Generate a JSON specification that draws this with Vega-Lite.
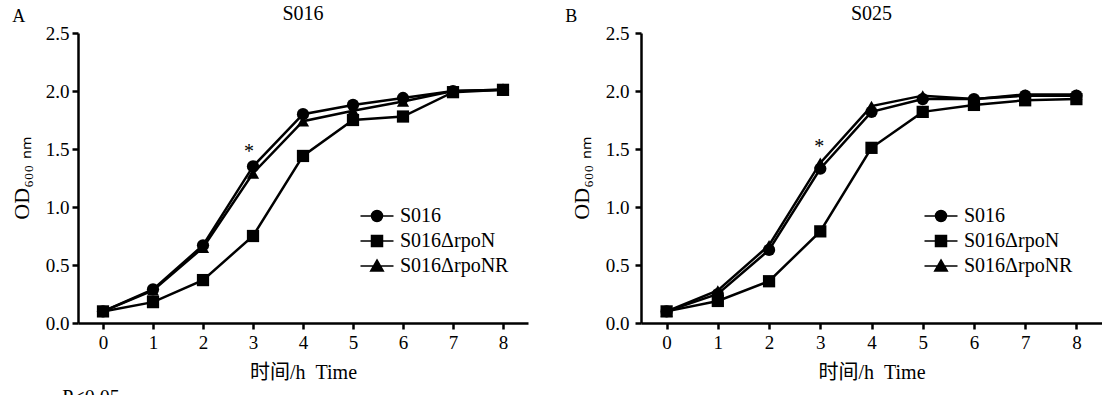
{
  "$schema": "https://vega.github.io/schema/vega-lite/v6.json",
  "background": "white",
  "padding": {"left": 10, "top": 4, "right": 0, "bottom": 0},
  "datasets": {
    "growth": [
      {"panel": "A", "strain": "S016", "time": 0, "od": 0.10},
      {"panel": "A", "strain": "S016", "time": 1, "od": 0.29},
      {"panel": "A", "strain": "S016", "time": 2, "od": 0.67},
      {"panel": "A", "strain": "S016", "time": 3, "od": 1.35},
      {"panel": "A", "strain": "S016", "time": 4, "od": 1.80},
      {"panel": "A", "strain": "S016", "time": 5, "od": 1.88},
      {"panel": "A", "strain": "S016", "time": 6, "od": 1.94},
      {"panel": "A", "strain": "S016", "time": 7, "od": 2.00},
      {"panel": "A", "strain": "S016", "time": 8, "od": 2.01},
      {"panel": "A", "strain": "S016ΔrpoN", "time": 0, "od": 0.10},
      {"panel": "A", "strain": "S016ΔrpoN", "time": 1, "od": 0.18},
      {"panel": "A", "strain": "S016ΔrpoN", "time": 2, "od": 0.37},
      {"panel": "A", "strain": "S016ΔrpoN", "time": 3, "od": 0.75},
      {"panel": "A", "strain": "S016ΔrpoN", "time": 4, "od": 1.44},
      {"panel": "A", "strain": "S016ΔrpoN", "time": 5, "od": 1.75},
      {"panel": "A", "strain": "S016ΔrpoN", "time": 6, "od": 1.78},
      {"panel": "A", "strain": "S016ΔrpoN", "time": 7, "od": 1.99},
      {"panel": "A", "strain": "S016ΔrpoN", "time": 8, "od": 2.01},
      {"panel": "A", "strain": "S016ΔrpoNR", "time": 0, "od": 0.10},
      {"panel": "A", "strain": "S016ΔrpoNR", "time": 1, "od": 0.28},
      {"panel": "A", "strain": "S016ΔrpoNR", "time": 2, "od": 0.65},
      {"panel": "A", "strain": "S016ΔrpoNR", "time": 3, "od": 1.29},
      {"panel": "A", "strain": "S016ΔrpoNR", "time": 4, "od": 1.74},
      {"panel": "A", "strain": "S016ΔrpoNR", "time": 5, "od": 1.83},
      {"panel": "A", "strain": "S016ΔrpoNR", "time": 6, "od": 1.91},
      {"panel": "A", "strain": "S016ΔrpoNR", "time": 7, "od": 2.00},
      {"panel": "A", "strain": "S016ΔrpoNR", "time": 8, "od": 2.01},
      {"panel": "B", "strain": "S016", "time": 0, "od": 0.10},
      {"panel": "B", "strain": "S016", "time": 1, "od": 0.25},
      {"panel": "B", "strain": "S016", "time": 2, "od": 0.63},
      {"panel": "B", "strain": "S016", "time": 3, "od": 1.33},
      {"panel": "B", "strain": "S016", "time": 4, "od": 1.82},
      {"panel": "B", "strain": "S016", "time": 5, "od": 1.93},
      {"panel": "B", "strain": "S016", "time": 6, "od": 1.93},
      {"panel": "B", "strain": "S016", "time": 7, "od": 1.96},
      {"panel": "B", "strain": "S016", "time": 8, "od": 1.96},
      {"panel": "B", "strain": "S016ΔrpoN", "time": 0, "od": 0.10},
      {"panel": "B", "strain": "S016ΔrpoN", "time": 1, "od": 0.19},
      {"panel": "B", "strain": "S016ΔrpoN", "time": 2, "od": 0.36},
      {"panel": "B", "strain": "S016ΔrpoN", "time": 3, "od": 0.79},
      {"panel": "B", "strain": "S016ΔrpoN", "time": 4, "od": 1.51},
      {"panel": "B", "strain": "S016ΔrpoN", "time": 5, "od": 1.82},
      {"panel": "B", "strain": "S016ΔrpoN", "time": 6, "od": 1.88},
      {"panel": "B", "strain": "S016ΔrpoN", "time": 7, "od": 1.92},
      {"panel": "B", "strain": "S016ΔrpoN", "time": 8, "od": 1.93},
      {"panel": "B", "strain": "S016ΔrpoNR", "time": 0, "od": 0.10},
      {"panel": "B", "strain": "S016ΔrpoNR", "time": 1, "od": 0.28},
      {"panel": "B", "strain": "S016ΔrpoNR", "time": 2, "od": 0.67},
      {"panel": "B", "strain": "S016ΔrpoNR", "time": 3, "od": 1.38},
      {"panel": "B", "strain": "S016ΔrpoNR", "time": 4, "od": 1.87},
      {"panel": "B", "strain": "S016ΔrpoNR", "time": 5, "od": 1.96},
      {"panel": "B", "strain": "S016ΔrpoNR", "time": 6, "od": 1.93},
      {"panel": "B", "strain": "S016ΔrpoNR", "time": 7, "od": 1.97},
      {"panel": "B", "strain": "S016ΔrpoNR", "time": 8, "od": 1.97}
    ],
    "marks": [
      {"panel": "A", "time": 2.92, "od": 1.47, "label": "*"},
      {"panel": "B", "time": 2.98, "od": 1.52, "label": "*"}
    ]
  },
  "config": {
    "font": "'Liberation Serif', 'Noto Sans CJK SC'",
    "view": {"stroke": null},
    "axis": {
      "grid": false,
      "domainColor": "black",
      "domainWidth": 2.5,
      "tickColor": "black",
      "tickWidth": 2.5,
      "tickSize": 6,
      "labelFont": "'Liberation Serif'",
      "labelFontSize": 19,
      "labelColor": "black",
      "titleFont": "'Liberation Serif', 'Noto Sans CJK SC'",
      "titleFontSize": 20,
      "titleFontWeight": "normal",
      "titleColor": "black"
    },
    "title": {"font": "'Liberation Serif'", "fontSize": 20, "fontWeight": "normal", "color": "black"},
    "legend": {"labelFont": "'Liberation Serif'", "labelFontSize": 20, "labelColor": "black"}
  },
  "title": {"text": "P<0.05", "orient": "bottom", "anchor": "start", "fontSize": 20, "dx": 52, "offset": 6},
  "spacing": 37,
  "hconcat": [
    {
      "title": {"text": "A", "anchor": "start", "frame": "bounds", "fontSize": 18, "dy": 26, "dx": 2},
      "vconcat": [
        {
          "width": 450,
          "height": 290,
          "title": {"text": "S016", "anchor": "middle", "offset": 0},
          "data": {"name": "growth"},
          "transform": [{"filter": "datum.panel === 'A'"}],
          "encoding": {
            "x": {"field": "time", "type": "quantitative", "scale": {"domain": [-0.5, 8.5], "nice": false, "zero": false},
                  "axis": {"values": [0, 1, 2, 3, 4, 5, 6, 7, 8], "title": "时间/h\u00a0\u00a0Time", "labelPadding": 4, "titlePadding": 10}},
            "y": {"field": "od", "type": "quantitative", "scale": {"domain": [0, 2.5], "nice": false},
                  "axis": {"values": [0, 0.5, 1, 1.5, 2, 2.5], "format": ".1f", "title": "OD₆₀₀ ₙₘ", "titleFontSize": 22, "labelPadding": 3, "titlePadding": 12}}
          },
          "layer": [
            {"mark": {"type": "line", "color": "black", "strokeWidth": 2.5}, "encoding": {"detail": {"field": "strain"}}},
            {"mark": {"type": "point", "filled": true, "color": "black", "size": 150, "opacity": 1},
             "encoding": {"shape": {"field": "strain", "type": "nominal", "scale": {"domain": ["S016", "S016ΔrpoN", "S016ΔrpoNR"], "range": ["circle", "square", "triangle-up"]}, "legend": null}}},
            {"mark": {"type": "point", "filled": true, "fill": "black", "stroke": "black", "strokeWidth": 2.5, "size": 121, "opacity": 0},
             "encoding": {"shape": {"field": "strain", "type": "nominal",
               "scale": {"domain": ["S016", "S016ΔrpoN", "S016ΔrpoNR"], "range": ["M-3,0H3M1,0A1,1,0,1,1,-1,0A1,1,0,1,1,1,0Z", "M-3,0H3M-1,-1H1V1H-1Z", "M-3,0H3M0,-1.1L1.15,0.9H-1.15Z"]},
               "legend": {"orient": "none", "legendX": 289, "legendY": 173, "title": null, "symbolOpacity": 1, "symbolSize": 121, "labelOffset": 13, "rowPadding": 5,
                 "encode": {"symbols": {"update": {"stroke": {"value": "black"}, "strokeWidth": {"value": 2.5}, "fill": {"value": "black"}, "opacity": {"value": 1}}}}}}}},
            {"data": {"name": "marks"}, "transform": [{"filter": "datum.panel === 'A'"}],
             "mark": {"type": "text", "fontSize": 20, "font": "'Liberation Serif'", "color": "black", "baseline": "middle"},
             "encoding": {"text": {"field": "label"}}}
          ],
          "resolve": {"scale": {"shape": "independent"}, "legend": {"shape": "independent"}}
        }
      ]
    },
    {
      "title": {"text": "B", "anchor": "start", "frame": "bounds", "fontSize": 18, "dy": 26, "dx": -5},
      "vconcat": [
        {
          "width": 461,
          "height": 290,
          "title": {"text": "S025", "anchor": "middle", "offset": 0},
          "data": {"name": "growth"},
          "transform": [{"filter": "datum.panel === 'B'"}],
          "encoding": {
            "x": {"field": "time", "type": "quantitative", "scale": {"domain": [-0.5, 8.5], "nice": false, "zero": false},
                  "axis": {"values": [0, 1, 2, 3, 4, 5, 6, 7, 8], "title": "时间/h\u00a0\u00a0Time", "labelPadding": 4, "titlePadding": 10}},
            "y": {"field": "od", "type": "quantitative", "scale": {"domain": [0, 2.5], "nice": false},
                  "axis": {"values": [0, 0.5, 1, 1.5, 2, 2.5], "format": ".1f", "title": "OD₆₀₀ ₙₘ", "titleFontSize": 22, "labelPadding": 6, "titlePadding": 12}}
          },
          "layer": [
            {"mark": {"type": "line", "color": "black", "strokeWidth": 2.5}, "encoding": {"detail": {"field": "strain"}}},
            {"mark": {"type": "point", "filled": true, "color": "black", "size": 150, "opacity": 1},
             "encoding": {"shape": {"field": "strain", "type": "nominal", "scale": {"domain": ["S016", "S016ΔrpoN", "S016ΔrpoNR"], "range": ["circle", "square", "triangle-up"]}, "legend": null}}},
            {"mark": {"type": "point", "filled": true, "fill": "black", "stroke": "black", "strokeWidth": 2.5, "size": 121, "opacity": 0},
             "encoding": {"shape": {"field": "strain", "type": "nominal",
               "scale": {"domain": ["S016", "S016ΔrpoN", "S016ΔrpoNR"], "range": ["M-3,0H3M1,0A1,1,0,1,1,-1,0A1,1,0,1,1,1,0Z", "M-3,0H3M-1,-1H1V1H-1Z", "M-3,0H3M0,-1.1L1.15,0.9H-1.15Z"]},
               "legend": {"orient": "none", "legendX": 290, "legendY": 173, "title": null, "symbolOpacity": 1, "symbolSize": 121, "labelOffset": 13, "rowPadding": 5,
                 "encode": {"symbols": {"update": {"stroke": {"value": "black"}, "strokeWidth": {"value": 2.5}, "fill": {"value": "black"}, "opacity": {"value": 1}}}}}}}},
            {"data": {"name": "marks"}, "transform": [{"filter": "datum.panel === 'B'"}],
             "mark": {"type": "text", "fontSize": 20, "font": "'Liberation Serif'", "color": "black", "baseline": "middle"},
             "encoding": {"text": {"field": "label"}}}
          ],
          "resolve": {"scale": {"shape": "independent"}, "legend": {"shape": "independent"}}
        }
      ]
    }
  ]
}
